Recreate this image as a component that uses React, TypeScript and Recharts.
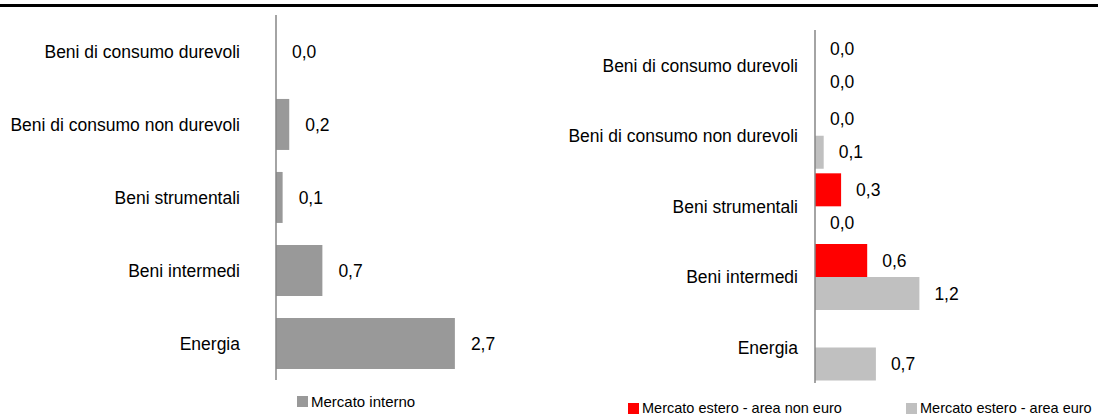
import { BarChart, Bar, XAxis, YAxis, LabelList } from "recharts";

const categories = [
  "Beni di consumo durevoli",
  "Beni di consumo non durevoli",
  "Beni strumentali",
  "Beni intermedi",
  "Energia",
];
const internoValues = [0.0, 0.2, 0.1, 0.7, 2.7];
const nonEuroValues: (number | null)[] = [0.0, 0.0, 0.3, 0.6, null];
const euroValues = [0.0, 0.1, 0.0, 1.2, 0.7];

const FONT = "'Liberation Sans', Arial, sans-serif";
const GRAY_DARK = "#999999";
const GRAY_LIGHT = "#c0c0c0";
const RED = "#ff0000";
const AXIS = "#868686";

const leftData = categories.map((c, i) => ({ name: c, interno: internoValues[i] }));
const rightData = categories.map((c, i) => ({
  name: c,
  nonEuro: nonEuroValues[i],
  euro: euroValues[i],
}));

const fmt = (v: any) => (v == null ? "" : Number(v).toFixed(1).replace(".", ","));
const labelStyle = { fontSize: 17.5, fill: "#000", fontFamily: FONT };

function LegendItem({ color, label, x, y, size }: { color: string; label: string; x: number; y: number; size: number }) {
  return (
    <div style={{ position: "absolute", left: x, top: y, display: "flex", alignItems: "center", whiteSpace: "nowrap" }}>
      <span style={{ width: 11, height: 11, background: color, marginRight: 3, display: "inline-block" }} />
      <span style={{ fontSize: size, fontFamily: FONT, color: "#000" }}>{label}</span>
    </div>
  );
}

export default function App() {
  const tickStyle = { fontSize: 17.5, fill: "#000", fontFamily: FONT };
  return (
    <div style={{ position: "absolute", left: 0, top: 0, width: 1098, height: 418, background: "#fff", overflow: "hidden" }}>
      <div style={{ position: "absolute", left: 0, top: 4, width: 1098, height: 3, background: "#000" }} />

      <div style={{ position: "absolute", left: 0, top: 0 }}>
        <BarChart
          width={560}
          height={418}
          layout="vertical"
          data={leftData}
          margin={{ top: 15, right: 19, bottom: 38, left: 0 }}
          barCategoryGap="15%"
        >
          <XAxis type="number" domain={[0, 4]} hide />
          <YAxis
            type="category"
            dataKey="name"
            width={276}
            tickLine={false}
            tickSize={0}
            tickMargin={36}
            axisLine={{ stroke: AXIS, strokeWidth: 1.5 }}
            tick={tickStyle}
            interval={0}
          />
          <Bar dataKey="interno" fill={GRAY_DARK} minPointSize={0.01} isAnimationActive={false}>
            <LabelList dataKey="interno" position="right" offset={16} formatter={fmt} style={labelStyle} />
          </Bar>
        </BarChart>
      </div>

      <div style={{ position: "absolute", left: 560, top: 0 }}>
        <BarChart
          width={538}
          height={418}
          layout="vertical"
          data={rightData}
          margin={{ top: 30, right: 22, bottom: 35, left: 0 }}
          barCategoryGap="3%"
          barGap={0}
        >
          <XAxis type="number" domain={[0, 3]} hide />
          <YAxis
            type="category"
            dataKey="name"
            width={255}
            tickLine={false}
            tickSize={0}
            tickMargin={17}
            axisLine={{ stroke: AXIS, strokeWidth: 1.5 }}
            tick={tickStyle}
            interval={0}
          />
          <Bar dataKey="nonEuro" fill={RED} minPointSize={0.01} isAnimationActive={false}>
            <LabelList dataKey="nonEuro" position="right" offset={15} formatter={fmt} style={labelStyle} />
          </Bar>
          <Bar dataKey="euro" fill={GRAY_LIGHT} minPointSize={0.01} isAnimationActive={false}>
            <LabelList dataKey="euro" position="right" offset={15} formatter={fmt} style={labelStyle} />
          </Bar>
        </BarChart>
      </div>

      <LegendItem color={GRAY_DARK} label="Mercato interno" x={297} y={393} size={15} />
      <LegendItem color={RED} label="Mercato estero - area non euro" x={628} y={400} size={14.5} />
      <LegendItem color={GRAY_LIGHT} label="Mercato estero - area euro" x={906} y={400} size={14.5} />
    </div>
  );
}
